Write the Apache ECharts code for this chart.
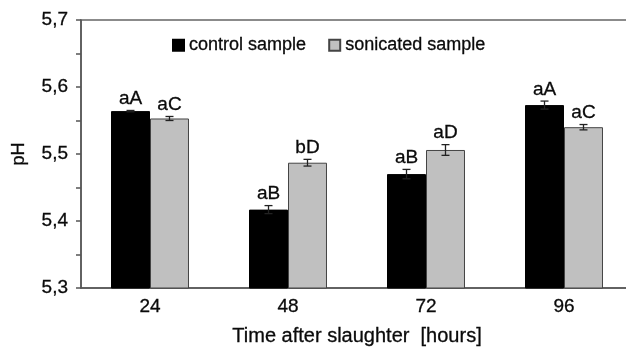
<!DOCTYPE html>
<html><head><meta charset="utf-8">
<script src="https://cdn.jsdelivr.net/npm/echarts@6/dist/echarts.min.js"></script>
<style>html,body{margin:0;padding:0;background:#fff}#c{width:626px;height:348px}</style>
</head><body><div id="c"></div>
<script>
const categories = ['24', '48', '72', '96'];
const controlValues = [5.564, 5.417, 5.470, 5.573];
const controlErrors = [0.001, 0.006, 0.007, 0.006];
const controlLetters = ['aA', 'aB', 'aB', 'aA'];
const sonicatedValues = [5.553, 5.487, 5.506, 5.540];
const sonicatedErrors = [0.003, 0.005, 0.008, 0.004];
const sonicatedLetters = ['aC', 'bD', 'aD', 'aC'];
const yTicks = [5.3, 5.4, 5.5, 5.6, 5.7];

const FONT = 'Liberation Sans, Arial, sans-serif';
const TXT = '#0a0a0a';
const CAT_GAP = 0.435;
const chart = echarts.init(document.getElementById('c'), null, {renderer: 'canvas'});

function errSeries(values, errors, letters, side) {
  return {
    type: 'custom',
    silent: true,
    z: 5,
    data: values.map((v, i) => [i, v, errors[i]]),
    renderItem: function (params, api) {
      const i = api.value(0), v = api.value(1), e = api.value(2);
      const band = api.size([1, 0])[0];
      const bw = band * (1 - CAT_GAP) / 2;
      const cx = api.coord([i, v])[0] + side * bw / 2;
      const yTop = api.coord([i, v + e])[1];
      const yBot = api.coord([i, v - e])[1];
      const cap = 4;
      const st = {stroke: '#222', lineWidth: 1.3};
      return {
        type: 'group',
        children: [
          {type: 'line', shape: {x1: cx, y1: yTop, x2: cx, y2: yBot}, style: st},
          {type: 'line', shape: {x1: cx - cap, y1: yTop, x2: cx + cap, y2: yTop}, style: st},
          {type: 'line', shape: {x1: cx - cap, y1: yBot, x2: cx + cap, y2: yBot}, style: st},
          {type: 'text', style: {text: letters[i], x: cx, y: yTop - 2, align: 'center', verticalAlign: 'bottom',
            fill: TXT, font: '19px ' + FONT, stroke: TXT, lineWidth: 0.3}}
        ]
      };
    }
  };
}

chart.setOption({
  animation: false,
  textStyle: {fontFamily: FONT},
  grid: {left: 81, width: 552, top: 20, bottom: 60, containLabel: false, outerBoundsMode: 'none',
    show: true, borderColor: '#666', borderWidth: 1.5, backgroundColor: 'transparent'},
  legend: {
    top: 31, left: 167, itemWidth: 11, itemHeight: 11, itemGap: 22, icon: 'rect',
    textStyle: {fontSize: 18, color: TXT, fontFamily: FONT, textBorderColor: TXT, textBorderWidth: 0.3},
    data: ['control sample', 'sonicated sample']
  },
  xAxis: {
    type: 'category', data: categories,
    name: 'Time after slaughter  [hours]', nameLocation: 'middle', nameGap: 38,
    nameTextStyle: {fontSize: 20, color: TXT, fontFamily: FONT, textBorderColor: TXT, textBorderWidth: 0.3},
    axisLine: {lineStyle: {color: '#555', width: 1.5}},
    axisTick: {show: false},
    axisLabel: {fontSize: 19, color: TXT, margin: 9, textBorderColor: TXT, textBorderWidth: 0.3}
  },
  yAxis: {
    type: 'value', min: 5.3, max: 5.7, interval: 0.05,
    name: 'pH', nameLocation: 'middle', nameGap: 53,
    nameTextStyle: {fontSize: 18, color: TXT, fontFamily: FONT, textBorderColor: TXT, textBorderWidth: 0.3},
    axisLine: {show: true, lineStyle: {color: '#555', width: 1.5}},
    axisTick: {show: true, length: 5, lineStyle: {color: '#555', width: 1.5}},
    splitLine: {show: false},
    axisLabel: {
      fontSize: 19, color: TXT, margin: 13, textBorderColor: TXT, textBorderWidth: 0.3,
      formatter: function (v) {
        const m = yTicks.find(t => Math.abs(t - v) < 1e-6);
        return m === undefined ? '' : m.toFixed(1).replace('.', ',');
      }
    }
  },
  series: [
    {name: 'control sample', type: 'bar', data: controlValues, barGap: '0%', barCategoryGap: (CAT_GAP * 100) + '%',
      itemStyle: {color: '#000', borderColor: '#000', borderWidth: 1}},
    {name: 'sonicated sample', type: 'bar', data: sonicatedValues,
      itemStyle: {color: '#c0c0c0', borderColor: '#444', borderWidth: 1}},
    errSeries(controlValues, controlErrors, controlLetters, -1),
    errSeries(sonicatedValues, sonicatedErrors, sonicatedLetters, 1)
  ]
});
</script></body></html>
